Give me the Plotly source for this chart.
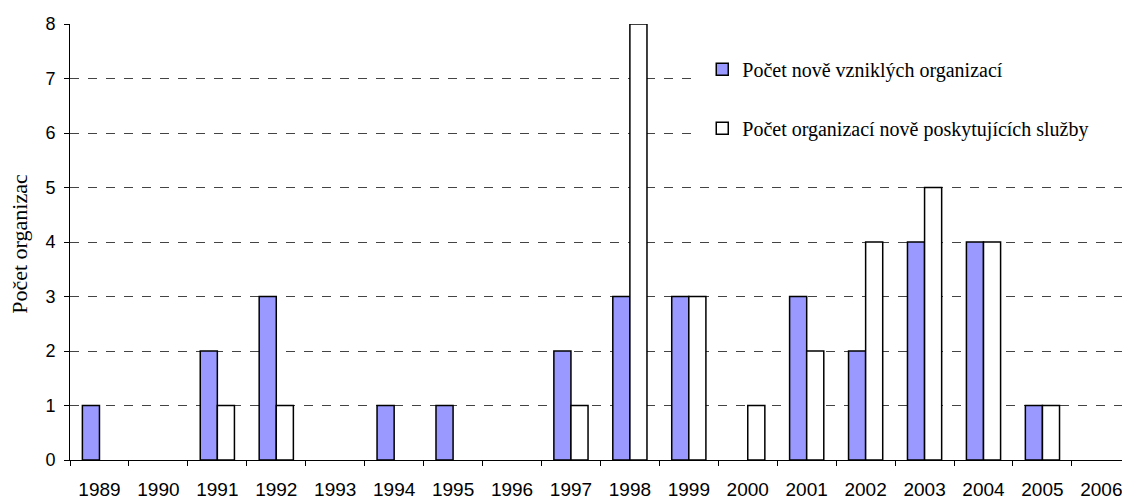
import plotly.graph_objects as go

# roky a hodnoty
years = [str(y) for y in range(1989, 2007)]
nove_vznikle = [1, 0, 2, 3, 0, 1, 1, 0, 2, 3, 3, 0, 3, 2, 4, 4, 1, 0]
nove_sluzby = [0, 0, 1, 1, 0, 0, 0, 0, 1, 8, 3, 1, 2, 4, 5, 4, 1, 0]

fig = go.Figure()

# nulove hodnoty se nekresli (jinak by byla na ose videt carka)
fig.add_trace(
    go.Bar(
        x=years,
        y=[v if v else None for v in nove_vznikle],
        name="Počet nově vzniklých organizací",
        marker=dict(color="#9999FF", line=dict(color="black", width=1.5)),
        legendgroup="a",
    )
)
fig.add_trace(
    go.Bar(
        x=years,
        y=[v if v else None for v in nove_sluzby],
        name="Počet organizací nově poskytujících služby",
        marker=dict(color="white", line=dict(color="black", width=1.5)),
        legendgroup="b",
    )
)

# bile pozadi pod legendou (zakryje mrizku az k pravemu okraji)
fig.add_shape(
    type="rect",
    xref="paper",
    yref="paper",
    x0=0.591,
    x1=1.0,
    y0=0.69,
    y1=0.96,
    fillcolor="white",
    line=dict(width=0),
    layer="above",
)

fig.update_layout(
    width=1122,
    height=499,
    margin=dict(l=70, r=0, t=24, b=39),
    plot_bgcolor="white",
    paper_bgcolor="white",
    barmode="group",
    bargap=0.42,
    bargroupgap=0,
    showlegend=True,
    legend=dict(
        x=0.601,
        y=0.941,
        xanchor="left",
        yanchor="top",
        bgcolor="white",
        font=dict(family="Liberation Serif", size=20, color="black"),
        tracegroupgap=30,
        itemwidth=30,
    ),
    font=dict(family="Liberation Sans", size=16, color="black"),
)

# posledni kategorie je v originale oriznuta pravym okrajem
fig.update_xaxes(
    type="category",
    range=[-0.5, 17.35],
    automargin=False,
    showline=True,
    linecolor="black",
    linewidth=1,
    ticks="outside",
    tickson="boundaries",
    ticklen=5,
    tickcolor="black",
    ticklabelstandoff=12,
    showgrid=False,
    tickfont=dict(family="Liberation Sans", size=19),
)

fig.update_yaxes(
    range=[0, 8],
    dtick=1,
    automargin=False,
    showline=True,
    linecolor="black",
    linewidth=1,
    ticks="outside",
    ticklen=5,
    tickcolor="black",
    ticklabelstandoff=5,
    showgrid=True,
    gridcolor="#444444",
    griddash="dash",
    gridwidth=1,
    zeroline=False,
    tickfont=dict(family="Liberation Sans", size=18),
)

# popisek osy y
fig.add_annotation(
    text="Počet organizac",
    xref="paper",
    yref="paper",
    x=-0.0475,
    y=0.496,
    xanchor="center",
    yanchor="middle",
    textangle=-90,
    showarrow=False,
    font=dict(family="Liberation Serif", size=22, color="black"),
)

# bez okraje stranky, aby graf sedel v okne
fig.write_html(
    "out.html",
    config={"displayModeBar": False},
    post_script="document.body.style.margin='0';",
)
